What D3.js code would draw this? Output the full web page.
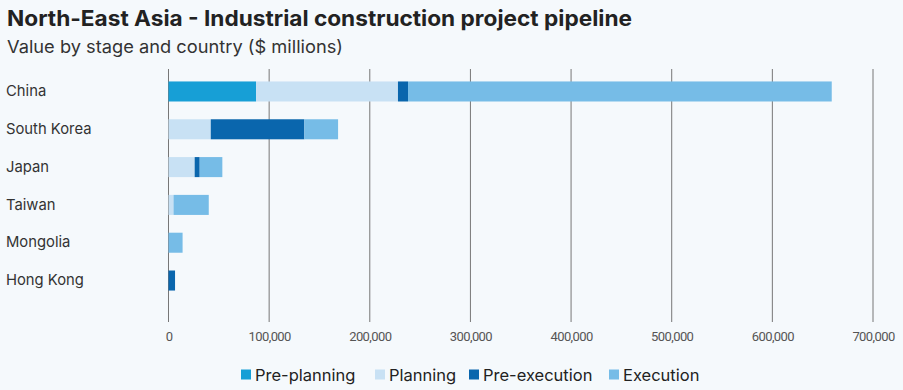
<!DOCTYPE html>
<html><head><meta charset="utf-8">
<script src="https://cdn.jsdelivr.net/npm/d3@7"></script>
<style>
html,body{margin:0;padding:0;background:#f5f9fc;}
svg{display:block;}
</style></head>
<body><svg id="chart" width="903" height="390"></svg>
<script>
const categories = ["China","South Korea","Japan","Taiwan","Mongolia","Hong Kong"];
const stages = ["Pre-planning","Planning","Pre-execution","Execution"];
const prePlanning = [87000, 0, 0, 0, 0, 0];
const planning = [141000, 42000, 26000, 5000, 0, 0];
const preExecution = [10000, 93000, 5000, 0, 0, 6500];
const execution = [421000, 33500, 22500, 35000, 14000, 0];
const tickValues = [0,100000,200000,300000,400000,500000,600000,700000];
const colors = ["#179fd6","#c8e1f4","#0a66ad","#76bce7"];

const series = [prePlanning, planning, preExecution, execution];
const rows = categories.map((c,i)=>{const o={country:c}; stages.forEach((s,j)=>o[s]=series[j][i]); return o;});
const stacked = d3.stack().keys(stages)(rows);

const svg = d3.select("#chart");
const x = d3.scaleLinear().domain([0,700000]).range([168.5,873]);
const y = d3.scaleBand().domain(categories).range([72,300]).paddingInner(0.47).paddingOuter(0.25);
const color = d3.scaleOrdinal().domain(stages).range(colors);

svg.append("text").attr("x",7).attr("y",26).attr("font-family","Inter, sans-serif")
  .attr("font-weight",700).attr("font-size",21.5).attr("fill","#222")
  .attr("textLength",625).attr("lengthAdjust","spacingAndGlyphs")
  .text("North-East Asia - Industrial construction project pipeline");
svg.append("text").attr("x",7).attr("y",53).attr("font-family","Inter, sans-serif")
  .attr("font-size",17.5).attr("fill","#333")
  .attr("textLength",336).attr("lengthAdjust","spacingAndGlyphs")
  .text("Value by stage and country ($ millions)");

// gridlines
svg.append("g").selectAll("line").data(tickValues).join("line")
  .attr("x1",d=>x(d)).attr("x2",d=>x(d)).attr("y1",69).attr("y2",322)
  .attr("stroke","#777").attr("stroke-width",1);

// x axis labels
const xAxis = d3.axisBottom(x).tickValues(tickValues).tickFormat(d3.format(",")).tickSize(0).tickPadding(0);
const gx = svg.append("g").attr("transform","translate(0,332)").call(xAxis);
gx.select(".domain").remove();
gx.selectAll("text").attr("font-family","Roboto, sans-serif").attr("font-size",13).attr("fill","#555").attr("letter-spacing","-0.6");

// bars
svg.append("g").selectAll("g").data(stacked).join("g").attr("fill",d=>color(d.key))
  .selectAll("rect").data(d=>d).join("rect")
  .attr("x",d=>x(d[0])).attr("width",d=>x(d[1])-x(d[0]))
  .attr("y",d=>y(d.data.country)).attr("height",y.bandwidth());

// y labels
const yAxis = d3.axisLeft(y).tickSize(0);
const gy = svg.append("g").attr("transform","translate(6,0)").call(yAxis);
gy.select(".domain").remove();
gy.selectAll("text").attr("text-anchor","start").attr("x",0).attr("dx",0)
  .attr("font-family","Inter, sans-serif").attr("font-size",14.8).attr("fill","#333");

// legend
const legendX = [241, 375, 469, 609];
const lg = svg.append("g").selectAll("g").data(stages).join("g")
  .attr("transform",(d,i)=>`translate(${legendX[i]},375)`);
lg.append("rect").attr("x",0).attr("y",-5.5).attr("width",10).attr("height",10).attr("fill",d=>color(d));
lg.append("text").attr("x",14).attr("y",0).attr("dy","0.35em").attr("font-family","Inter, sans-serif")
  .attr("font-size",16.5).attr("fill","#222").text(d=>d);
</script></body></html>
